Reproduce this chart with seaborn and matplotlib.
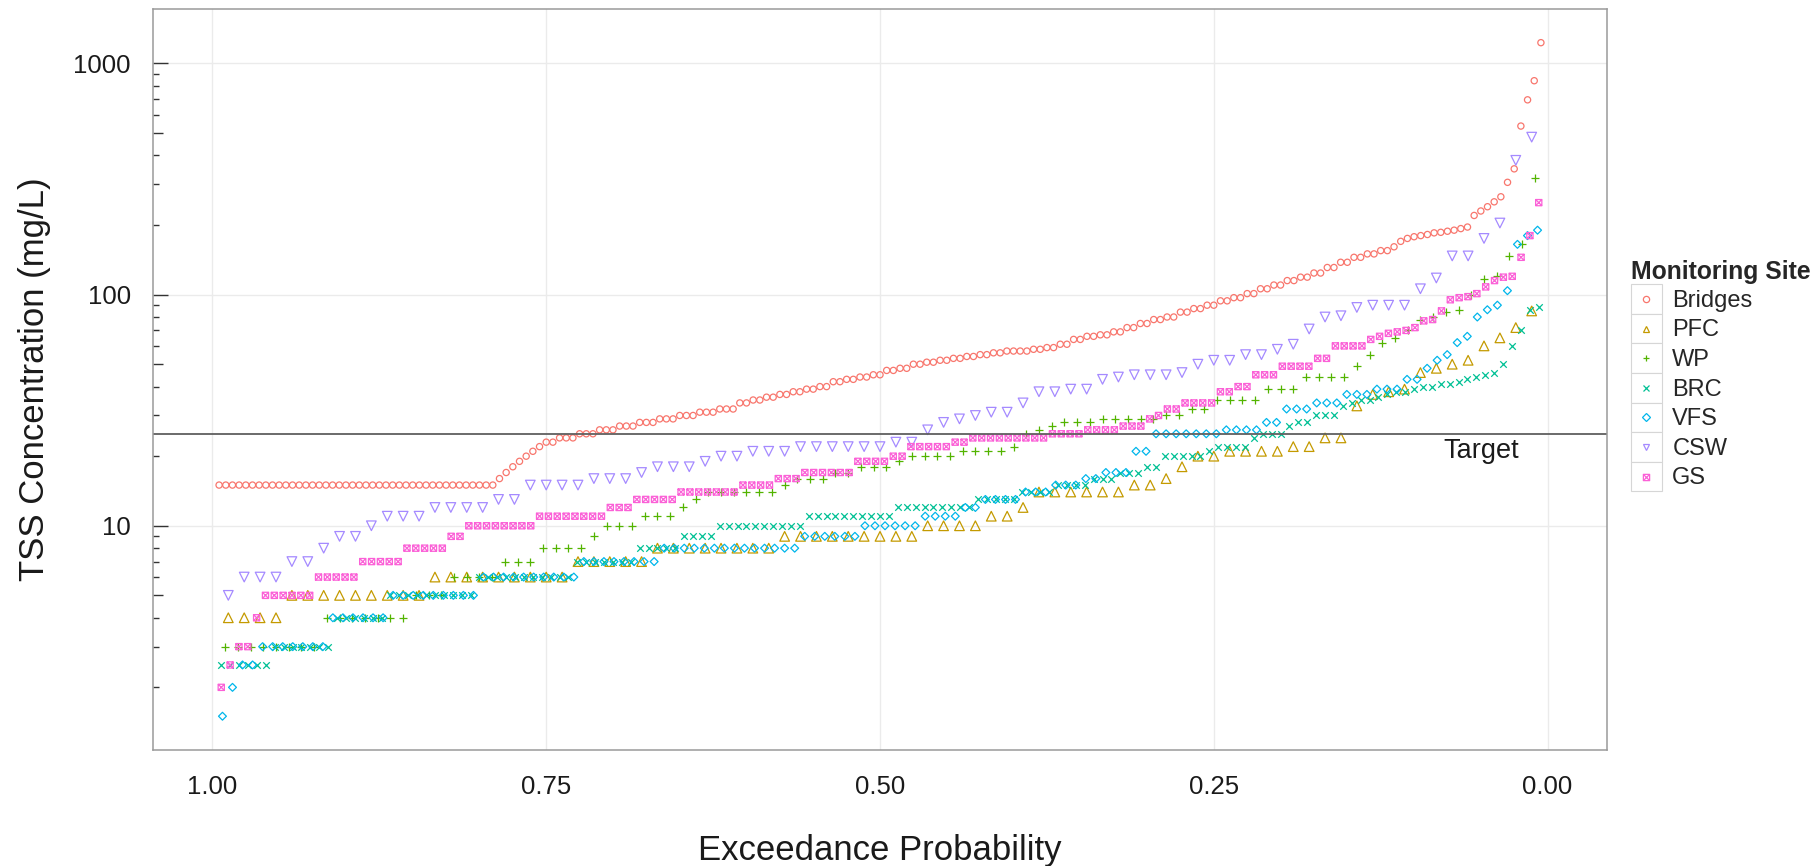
import numpy as np
import pandas as pd
import matplotlib
matplotlib.use("Agg")
import matplotlib.pyplot as plt
import seaborn as sns
from matplotlib.path import Path
from matplotlib.lines import Line2D
from matplotlib.patches import Rectangle
from matplotlib.legend_handler import HandlerLine2D
from matplotlib.ticker import NullLocator

# --- data: TSS concentrations (mg/L) per site, read as (value, count) runs ---
sites = ["Bridges", "PFC", "WP", "BRC", "VFS", "CSW", "GS"]
site_colors = ["#F8766D", "#C49A00", "#53B400", "#00C094", "#00B6EB", "#A58AFF", "#FB61D7"]

bridges_runs = [(15, 42), (16, 1), (17, 1), (18, 1), (19, 1), (20, 1), (21, 1), (22, 1),
                (23, 2), (24, 3), (25, 3), (26, 3), (27, 3), (28, 3), (29, 3), (30, 3), (31, 3), (32, 3),
                (34, 2), (35, 2), (36, 2), (37, 2), (38, 2), (39, 2), (40, 2), (42, 2), (43, 2),
                (44, 2), (45, 2), (47, 2), (48, 2), (50, 2), (51, 2), (52, 2), (53, 2), (54, 2),
                (55, 2), (56, 2), (57, 4), (58, 2), (59, 2), (61, 2), (64, 2), (66, 2), (67, 2),
                (69, 2), (72, 2), (75, 2), (78, 2), (80, 2), (84, 2), (87, 2), (90, 2), (94, 2),
                (97, 2), (101, 2), (106, 2), (110, 2), (115, 2), (119, 2), (124, 2), (131, 2),
                (138, 2), (145, 2), (150, 2), (155, 2), (161, 1), (170, 1), (175, 1), (178, 1),
                (180, 1), (182, 1), (185, 1), (186, 1), (188, 1), (190, 1), (193, 1), (196, 1),
                (220, 1), (230, 1), (240, 1), (252, 1), (265, 1), (306, 1), (350, 1), (536, 1),
                (696, 1), (842, 1), (1230, 1)]

pfc_runs = [(4, 4), (5, 9), (6, 9), (7, 5), (8, 8), (9, 9), (10, 4), (11, 2), (12, 1), (14, 6),
            (15, 2), (16, 1), (18, 1), (20, 2), (21, 4), (22, 2), (24, 2), (33, 1), (37, 1),
            (38, 1), (39, 1), (46, 1), (48, 1), (50, 1), (52, 1), (60, 1), (65, 1), (72, 1), (85, 1)]

wp_runs = [(3, 8), (4, 7), (5, 3), (6, 4), (7, 3), (8, 4), (9, 1), (10, 3), (11, 3), (12, 1),
           (13, 1), (14, 6), (15, 1), (16, 3), (17, 2), (18, 3), (19, 1), (20, 4), (21, 4), (22, 1),
           (25, 1), (26, 1), (27, 1), (28, 3), (29, 5), (30, 2), (32, 2), (35, 4), (39, 3), (44, 4),
           (49, 1), (55, 1), (62, 1), (65, 1), (70, 1), (78, 1), (80, 1), (84, 1), (86, 1),
           (100, 1), (117, 1), (120, 1), (147, 1), (166, 1), (318, 1)]

brc_runs = [(2.5, 6), (3, 7), (4, 6), (5, 10), (6, 11), (7, 7), (8, 5), (9, 4), (10, 10), (11, 10),
            (12, 9), (13, 5), (14, 4), (15, 4), (16, 3), (17, 3), (18, 2), (20, 5), (21, 1), (22, 4),
            (24, 1), (25, 3), (27, 1), (28, 2), (30, 3), (33, 1), (34, 1), (35, 2), (36, 1), (37, 1),
            (38, 2), (39, 1), (40, 2), (41, 2), (42, 1), (43, 1), (44, 1), (45, 1), (46, 1), (50, 1),
            (60, 1), (70, 1), (86, 1), (88, 1)]

vfs_runs = [(1.5, 1), (2, 1), (2.5, 2), (3, 7), (4, 6), (5, 9), (6, 10), (7, 8), (8, 14), (9, 6),
            (10, 6), (11, 4), (12, 2), (13, 4), (14, 3), (15, 3), (16, 2), (17, 3), (21, 2), (25, 7),
            (26, 4), (28, 2), (32, 3), (34, 3), (37, 3), (39, 3), (43, 2), (48, 1), (52, 1), (55, 1),
            (62, 1), (66, 1), (80, 1), (86, 1), (90, 1), (104, 1), (165, 1), (180, 1), (190, 1)]

csw_values = [5, 6, 6, 6, 7, 7, 8, 9, 9, 10, 11, 11, 11, 12, 12, 12, 12, 13, 13, 15,
              15, 15, 15, 16, 16, 16, 17, 18, 18, 18, 19, 20, 20, 21, 21, 21, 22, 22, 22, 22,
              22, 22, 23, 23, 26, 28, 29, 30, 31, 31, 34, 38, 38, 39, 39, 43, 44, 45, 45, 45,
              46, 50, 52, 52, 55, 55, 58, 61, 71, 80, 81, 88, 90, 90, 90, 106, 118, 147, 147, 175,
              204, 381, 480]

gs_runs = [(2, 1), (2.5, 1), (3, 2), (4, 1), (5, 6), (6, 5), (7, 5), (8, 5), (9, 2), (10, 8),
           (11, 8), (12, 3), (13, 5), (14, 7), (15, 4), (16, 3), (17, 6), (19, 4), (20, 2), (22, 5),
           (23, 2), (24, 9), (25, 4), (26, 4), (27, 3), (29, 1), (30, 1), (32, 2), (34, 4), (38, 2),
           (40, 2), (45, 3), (49, 4), (53, 2), (60, 4), (64, 1), (66, 1), (68, 1), (69, 1), (70, 1),
           (72, 1), (77, 1), (78, 1), (85, 1), (95, 1), (97, 1), (98, 1), (101, 1), (108, 1),
           (115, 1), (119, 1), (120, 1), (145, 1), (180, 1), (250, 1)]

target_tss = 25


def expand(runs):
    return np.repeat([v for v, c in runs], [c for v, c in runs])


site_values = [expand(bridges_runs), expand(pfc_runs), expand(wp_runs), expand(brc_runs),
               expand(vfs_runs), np.array(csw_values, dtype=float), expand(gs_runs)]

# exceedance probability (Weibull plotting position)
frames = []
for site, vals in zip(sites, site_values):
    vals = np.sort(vals)
    n = len(vals)
    frames.append(pd.DataFrame({"site": site, "tss": vals,
                                "exceed": 1 - np.arange(1, n + 1) / (n + 1)}))
df = pd.concat(frames, ignore_index=True)

# square with a cross (ggplot shape 7)
sq_cross = Path([(-1, -1), (1, -1), (1, 1), (-1, 1), (-1, -1), (-1, -1), (1, 1), (-1, 1), (1, -1)],
                [Path.MOVETO, Path.LINETO, Path.LINETO, Path.LINETO, Path.CLOSEPOLY,
                 Path.MOVETO, Path.LINETO, Path.MOVETO, Path.LINETO])
site_markers = ["o", "^", "+", "x", "D", "v", sq_cross]
site_sizes = [20, 48, 32, 22, 16, 48, 20]
open_marker = [True, True, False, False, True, True, True]

sns.set_theme(style="white")
plt.rcParams["font.family"] = ["Liberation Sans", "DejaVu Sans"]

fig = plt.figure(figsize=(18.15, 8.66), dpi=100)
ax = fig.add_axes([0.0843, 0.134, 0.8011, 0.8556])
ax.grid(True, which="major", color="#ebebeb", lw=1.0)
ax.set_axisbelow(True)

for site, col, mk, sz, hollow in zip(sites, site_colors, site_markers, site_sizes, open_marker):
    sub = df[df["site"] == site]
    if hollow:
        sns.scatterplot(data=sub, x="exceed", y="tss", marker=mk, s=sz, color=col,
                        facecolors="none", edgecolor=col, linewidth=0.9, ax=ax, legend=False)
    else:
        sns.scatterplot(data=sub, x="exceed", y="tss", marker=mk, s=sz, color=col,
                        linewidth=0.9, ax=ax, legend=False)

ax.axhline(target_tss, color="#5f5f5f", lw=1.3, zorder=1.5)
ax.text(0.05, 21, "Target", ha="center", va="center", fontsize=19.5, color="#1a1a1a")

ax.set_yscale("log")
ax.set_ylim(1.072, 1720)
ax.set_xlim(1.0445, -0.0445)
ax.set_xticks([1.0, 0.75, 0.5, 0.25, 0.0])
ax.set_xticklabels(["1.00", "0.75", "0.50", "0.25", "0.00"])
ax.set_yticks([10, 100, 1000])
ax.set_yticklabels(["10", "100", "1000"])
ax.yaxis.set_minor_locator(NullLocator())
ax.tick_params(axis="both", which="major", direction="out", length=5, width=1,
               color="#333333", labelsize=18.5, labelcolor="#1a1a1a")
ax.tick_params(axis="x", pad=13)
ax.tick_params(axis="y", pad=11)

# log ticks on the left side, inside the panel
for dec in [1, 10, 100, 1000]:
    for k in range(1, 10):
        v = k * dec
        if v < 1.072 or v > 1720:
            continue
        frac = 0.0105 if k == 1 else (0.007 if k == 5 else 0.0038)
        ax.hlines(v, 0, frac, transform=ax.get_yaxis_transform(), colors="#333333", lw=1.0)

for sp in ax.spines.values():
    sp.set_color("#9a9a9a")
    sp.set_linewidth(1.1)

ax.set_xlabel("Exceedance Probability", fontsize=25, labelpad=25, color="#1a1a1a")
ax.set_ylabel("TSS Concentration (mg/L)", fontsize=25, labelpad=16, color="#1a1a1a")


class KeyBox(HandlerLine2D):
    def create_artists(self, legend, orig_handle, xdescent, ydescent, width, height, fontsize, trans):
        box = Rectangle((-xdescent, -ydescent), width, height, facecolor="white",
                        edgecolor="#d6d6d6", lw=0.8, transform=trans)
        mk = Line2D([width / 2 - xdescent], [height / 2 - ydescent], ls="none",
                    marker=orig_handle.get_marker(), markersize=orig_handle.get_markersize(),
                    mec=orig_handle.get_markeredgecolor(), mfc="none",
                    mew=orig_handle.get_markeredgewidth(), transform=trans)
        return [box, mk]


handles = [Line2D([], [], ls="none", marker=mk, markersize=4.5, mec=col, mfc="none", mew=0.9)
           for mk, col in zip(site_markers, site_colors)]
leg = ax.legend(handles, sites, title="Monitoring Site", loc="center left",
                bbox_to_anchor=(1631 / 1815, 0.566), bbox_transform=fig.transFigure,
                frameon=False, fontsize=17, title_fontproperties={"weight": "bold", "size": 17.8},
                alignment="left", handlelength=1.3, handleheight=1.55, handletextpad=0.45,
                labelspacing=0, borderpad=0, borderaxespad=0,
                handler_map={Line2D: KeyBox()})

fig.savefig("out.png", dpi=100)
